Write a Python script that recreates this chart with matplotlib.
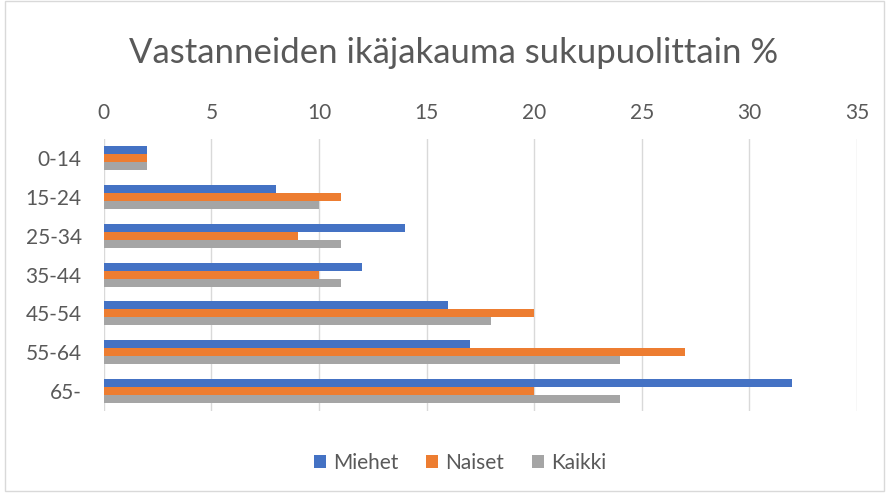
import numpy as np
import matplotlib
matplotlib.use("Agg")
import matplotlib.pyplot as plt
from matplotlib.patches import Rectangle

plt.rcParams['font.family'] = ['Lato', 'DejaVu Sans']

# data
categories = ['0-14', '15-24', '25-34', '35-44', '45-54', '55-64', '65-']
miehet = [2, 8, 14, 12, 16, 17, 32]
naiset = [2, 11, 9, 10, 20, 27, 20]
kaikki = [2, 10, 11, 11, 18, 24, 24]
series_names = ['Miehet', 'Naiset', 'Kaikki']
colors = ['#4472C4', '#ED7D31', '#A5A5A5']

fig = plt.figure(figsize=(8.88, 4.97), dpi=100)
ax = fig.add_axes([0.117, 0.174, 0.848, 0.547])

y = np.arange(len(categories))
h = 0.205
for i, (vals, name, c) in enumerate(zip([miehet, naiset, kaikki], series_names, colors)):
    ax.barh(y + (i - 1) * h, vals, height=h, color=c, label=name, zorder=3)

ax.set_ylim(len(categories) - 0.5, -0.5)
ax.set_xlim(0, 35)
ax.set_xticks(range(0, 36, 5))
ax.set_yticks(y)
ax.set_yticklabels(categories)
ax.xaxis.tick_top()
ax.tick_params(length=0, labelsize=15, labelcolor='#595959')
ax.tick_params(axis='x', pad=11)
ax.tick_params(axis='y', pad=16)
ax.grid(axis='x', color='#D9D9D9', linewidth=1, zorder=0)
for s in ax.spines.values():
    s.set_visible(False)

fig.text(0.511, 0.893, 'Vastanneiden ikäjakauma sukupuolittain %', ha='center', va='center',
         fontsize=25, color='#595959')

handles, labels = ax.get_legend_handles_labels()
fig.legend(handles, labels, loc='center', bbox_to_anchor=(0.518, 0.068), ncol=3, frameon=False,
           fontsize=15, labelcolor='#595959', handlelength=0.6, handleheight=0.6,
           handletextpad=0.35, columnspacing=1.3)

fig.patches.append(Rectangle((0.006, 0.012), 0.989, 0.985, transform=fig.transFigure,
                             fill=False, edgecolor='#D9D9D9', linewidth=1))

fig.savefig('out.png', dpi=100)
